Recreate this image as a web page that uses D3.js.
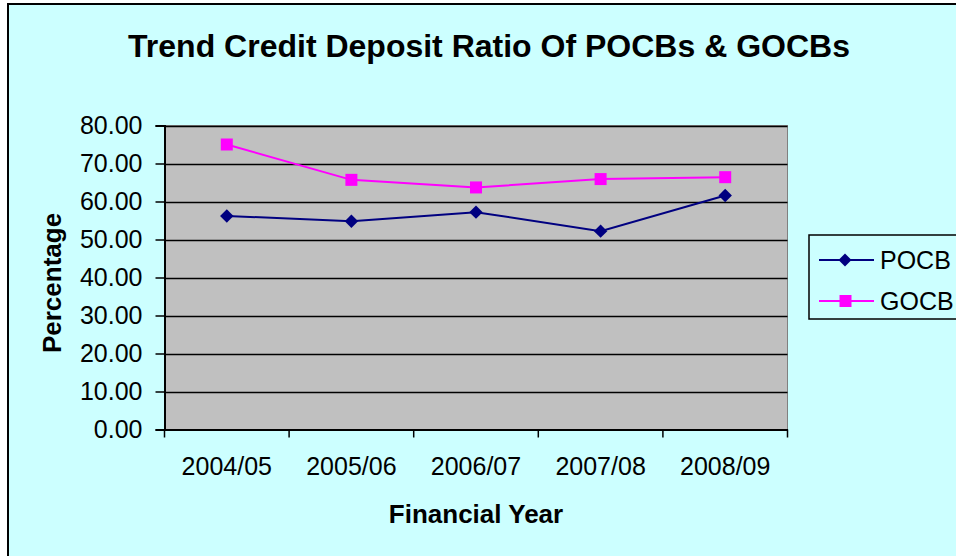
<!DOCTYPE html>
<html><head><meta charset="utf-8">
<script src="https://cdn.jsdelivr.net/npm/d3@7"></script>
<style>body{margin:0;background:#fff}svg{display:block}text{font-family:Arial,"Liberation Sans",sans-serif}</style>
</head><body>
<script>
const categories = ["2004/05","2005/06","2006/07","2007/08","2008/09"];
const pocb = [56.2, 54.8, 57.2, 52.2, 61.6];
const gocb = [75.0, 65.7, 63.7, 65.9, 66.4];
const yTicks = [0,10,20,30,40,50,60,70,80];
const seriesNames = ["POCB","GOCB"];

const W=956,H=556;
const FF="Arial, 'Liberation Sans', sans-serif";
const svg=d3.select("body").append("svg").attr("width",W).attr("height",H);
svg.append("rect").attr("x",8).attr("y",4).attr("width",960).attr("height",560)
  .attr("fill","#CCFFFF").attr("stroke","#000").attr("stroke-width",2);

const L=164.5,R=787.5,T=125.5,B=429.5;
const x=d3.scaleBand().domain(categories).range([L,R]);
const y=d3.scaleLinear().domain([0,80]).range([B,T]);

svg.append("rect").attr("x",L).attr("y",T).attr("width",R-L).attr("height",B-T)
  .attr("fill","#C0C0C0").attr("stroke","#808080").attr("stroke-width",1);

const g=svg.append("g");
g.selectAll("line.grid").data(yTicks.filter(d=>d>0)).join("line")
  .attr("x1",L).attr("x2",R).attr("y1",d=>Math.round(y(d))+0.5).attr("y2",d=>Math.round(y(d))+0.5)
  .attr("stroke","#000").attr("stroke-width",1.5);

const ya=svg.append("g").attr("transform",`translate(${L},0)`)
  .call(d3.axisLeft(y).tickValues(yTicks).tickFormat(d3.format(".2f")).tickSize(9).tickPadding(13));
ya.select(".domain").attr("stroke","#000").attr("stroke-width",2);
ya.selectAll(".tick line").attr("stroke","#000").attr("stroke-width",1.5);
ya.selectAll("text").attr("font-size",25).attr("fill","#000").attr("font-family",FF);

const xa=svg.append("g").attr("transform",`translate(0,${B})`)
  .call(d3.axisBottom(x).tickSize(0).tickPadding(28));
xa.select(".domain").attr("stroke","#000").attr("stroke-width",2);
xa.selectAll("text").attr("font-size",25).attr("fill","#000").attr("font-family",FF);
const bounds=[...categories.map(c=>x(c)),R];
svg.selectAll("line.xt").data(bounds).join("line")
  .attr("x1",d=>d).attr("x2",d=>d).attr("y1",B).attr("y2",B+8)
  .attr("stroke","#000").attr("stroke-width",1.5);

const cx=(c)=>x(c)+x.bandwidth()/2;
const line=d3.line().x((d,i)=>cx(categories[i])).y(d=>y(d));
svg.append("path").datum(gocb).attr("d",line).attr("fill","none").attr("stroke","#FF00FF").attr("stroke-width",2);
svg.append("path").datum(pocb).attr("d",line).attr("fill","none").attr("stroke","#000080").attr("stroke-width",2);
svg.selectAll("rect.gm").data(gocb).join("rect")
  .attr("x",(d,i)=>cx(categories[i])-6).attr("y",d=>y(d)-6).attr("width",12).attr("height",12).attr("fill","#FF00FF");
svg.selectAll("path.pm").data(pocb).join("path")
  .attr("d",d3.symbol().type(d3.symbolSquare).size(90)())
  .attr("transform",(d,i)=>`translate(${cx(categories[i])},${y(d)}) rotate(45)`)
  .attr("fill","#000080");

svg.append("text").attr("x",489).attr("y",57).attr("text-anchor","middle")
  .attr("font-size",32).attr("font-weight","bold").text("Trend Credit Deposit Ratio Of POCBs & GOCBs");
svg.append("text").attr("transform","translate(61,283) rotate(-90)").attr("text-anchor","middle")
  .attr("font-size",26).attr("font-weight","bold").text("Percentage");
svg.append("text").attr("x",476).attr("y",523).attr("text-anchor","middle")
  .attr("font-size",26).attr("font-weight","bold").text("Financial Year");

const lg=svg.append("g");
lg.append("rect").attr("x",809).attr("y",235).attr("width",160).attr("height",84)
  .attr("fill","#CCFFFF").attr("stroke","#000").attr("stroke-width",1.5);
const colors=["#000080","#FF00FF"];
seriesNames.forEach((n,i)=>{
  const yy=260+i*41;
  lg.append("line").attr("x1",819).attr("x2",874).attr("y1",yy).attr("y2",yy).attr("stroke",colors[i]).attr("stroke-width",2);
  if(i===0) lg.append("path").attr("d",d3.symbol().type(d3.symbolSquare).size(85)()).attr("transform",`translate(845,${yy}) rotate(45)`).attr("fill",colors[i]);
  else lg.append("rect").attr("x",839.5).attr("y",yy-6).attr("width",12).attr("height",12).attr("fill",colors[i]);
  lg.append("text").attr("x",880).attr("y",yy+9).attr("font-size",25).text(n);
});
</script>
</body></html>
